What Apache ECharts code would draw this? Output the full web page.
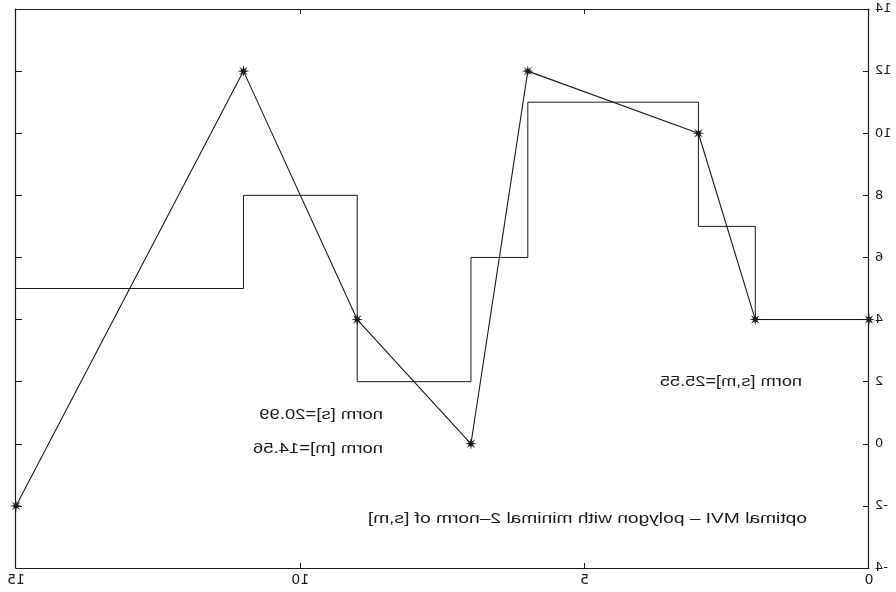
<!DOCTYPE html>
<html>
<head>
<meta charset="utf-8">
<script src="https://cdn.jsdelivr.net/npm/echarts@6/dist/echarts.min.js"></script>
<style>
  html, body { margin: 0; padding: 0; background: #fff; }
  /* the reference picture is a mirror image, so the whole chart is flipped */
  #main { width: 896px; height: 592px; transform: scaleX(-1); }
</style>
</head>
<body>
<div id="main"></div>
<script>
// polygon s (the stars)
var sX = [15, 11, 9, 7, 6, 3, 2, 0];
var sY = [-2, 12, 4, 0, 12, 10, 4, 4];
// step function m: breakpoints and level on each interval
var mX = [0, 2, 3, 6, 7, 9, 11, 15];
var mY = [4, 7, 11, 6, 2, 8, 5, 5];
var xTicks = [0, 5, 10, 15];
var yTicks = [-4, -2, 0, 2, 4, 6, 8, 10, 12, 14];
var notes = ['norm [s,m]=25.55', 'norm [s]=20.99', 'norm [m]=14.56', 'optimal MVI \u2013 polygon with minimal 2\u2013norm of [s,m]'];

var ink = '#1a1a1a';
var star = 'path://M10,0 L3.23,1.34 L7.07,7.07 L1.34,3.23 L0,10 L-1.34,3.23 L-7.07,7.07 L-3.23,1.34 L-10,0 L-3.23,-1.34 L-7.07,-7.07 L-1.34,-3.23 L0,-10 L1.34,-3.23 L7.07,-7.07 L3.23,-1.34 Z';

var sData = sX.map(function (x, i) { return [x, sY[i]] });
var mData = mX.map(function (x, i) { return [x, mY[i]] });

function note(txt, left, top, sx) {
  return {
    type: 'text', left: left, top: top, scaleX: sx,
    style: { text: txt, fill: ink, font: '14px "Liberation Sans", Arial, sans-serif' }
  }
}

function xAx(pos, labels) {
  return {
    type: 'value', position: pos, min: xTicks[0], max: xTicks[xTicks.length - 1], interval: 5,
    axisLine: { show: true, onZero: false, lineStyle: { color: ink, width: 1.2 } },
    axisTick: { show: true, inside: true, length: 5, lineStyle: { color: ink } },
    axisLabel: { show: labels, color: ink, fontFamily: 'DejaVu Sans', fontSize: 14, margin: 5 },
    splitLine: { show: false }
  }
}
function yAx(pos, labels) {
  return {
    type: 'value', position: pos, min: yTicks[0], max: yTicks[yTicks.length - 1], interval: 2,
    axisLine: { show: true, onZero: false, lineStyle: { color: ink, width: 1.2 } },
    axisTick: { show: true, inside: true, length: 6, lineStyle: { color: ink } },
    axisLabel: { show: labels, color: ink, fontFamily: 'DejaVu Sans', fontSize: 13, margin: 6 },
    splitLine: { show: false }
  }
}

var chart = echarts.init(document.getElementById('main'));
chart.setOption({
  animation: false,
  grid: { left: 27, right: 16, top: 9, bottom: 24 },
  xAxis: [xAx('bottom', true), xAx('top', false)],
  yAxis: [yAx('left', true), yAx('right', false)],
  series: [{
    type: 'line', data: mData, step: 'end', symbol: 'none',
    lineStyle: { color: ink, width: 1 }
  }, {
    type: 'line', data: sData, symbol: star, symbolSize: 12,
    itemStyle: { color: ink },
    lineStyle: { color: ink, width: 1.1 }
  }],
  graphic: [
    note(notes[0], 94, 375, 1.3),
    note(notes[1], 513, 408, 1.32),
    note(notes[2], 513, 442, 1.32),
    note(notes[3], 89, 512, 1.37)
  ]
});
</script>
</body>
</html>
